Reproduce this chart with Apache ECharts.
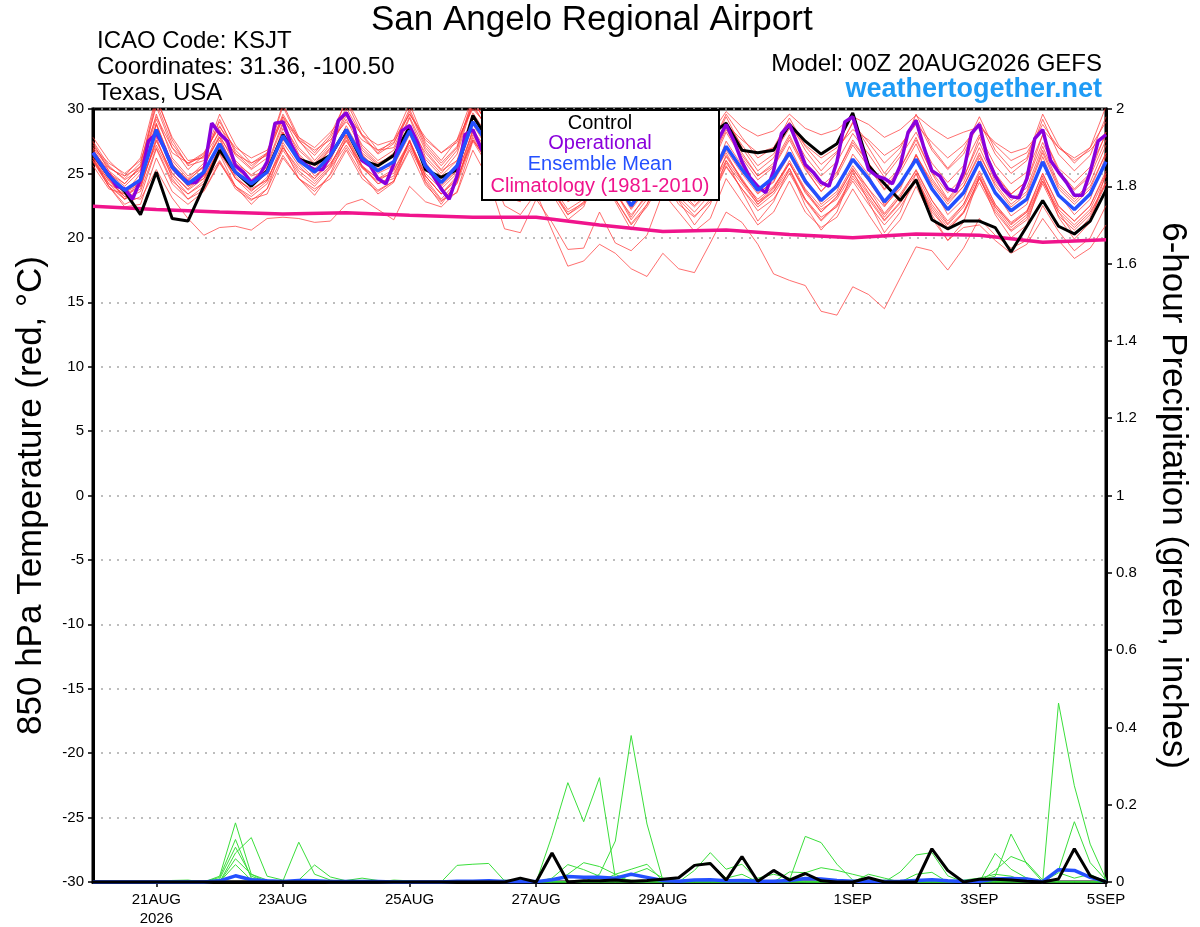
<!DOCTYPE html>
<html><head><meta charset="utf-8">
<script src="https://cdn.jsdelivr.net/npm/echarts@6/dist/echarts.min.js"></script>
<style>html,body{margin:0;padding:0;background:#fff}#chart{width:1200px;height:927px}</style>
</head><body><div id="chart"></div>
<script>
// ---------- DATA ----------
const stationTitle = 'San Angelo Regional Airport';
const headerLeft = ['ICAO Code: KSJT', 'Coordinates: 31.36, -100.50', 'Texas, USA'];
const modelText = 'Model: 00Z 20AUG2026 GEFS';
const siteText = 'weathertogether.net';
const legendNames = ['Control', 'Operational', 'Ensemble Mean', 'Climatology (1981-2010)'];
const tickLabels = {'21AUG 00Z':'21AUG\n2026','23AUG 00Z':'23AUG','25AUG 00Z':'25AUG','27AUG 00Z':'27AUG','29AUG 00Z':'29AUG','1SEP 00Z':'1SEP','3SEP 00Z':'3SEP','5SEP 00Z':'5SEP'};

// 850 hPa temperature ensemble members (6-hourly, 20AUG 00Z .. 5SEP 00Z)
const mem01=[27.2,25.5,24.6,25.8,30.2,27.0,25.3,26.4, 29.0,26.8,25.6,26.5,29.6,27.5,26.4,27.8, 30.1,27.9,26.5,27.3,30.0,27.2,25.8,27.1, 30.6,28.8,26.7,26.4,28.7,27.0,25.4,26.0, 28.3,26.2,24.3,26.1,28.1,26.5,25.2,26.3, 29.0,27.2,25.6,26.5,28.5,26.3,24.8,25.9, 28.1,26.5,24.7,26.3,28.2,25.8,24.3,25.6, 28.0,25.6,24.2,25.1,28.0,25.4,24.3,25.5, 28.0];
const mem02=[25.9,24.0,22.6,23.2,26.9,24.2,23.0,23.7, 25.9,23.8,22.9,23.8,26.4,24.6,23.6,24.9, 27.0,24.9,23.7,24.4,26.8,24.1,22.8,24.2, 27.6,25.9,23.8,23.4,25.5,23.7,22.0,22.7, 24.9,23.0,21.1,22.6,24.8,23.0,21.7,22.8, 25.5,23.8,22.1,23.0,25.0,22.9,21.3,22.5, 24.6,23.0,21.3,22.7,24.5,22.2,20.6,21.9, 24.3,22.0,20.5,21.4,24.2,21.7,20.6,21.8, 24.4];
const mem03=[26.0,24.5,23.2,23.0,25.3,23.1,21.5,20.2, 20.8,20.9,20.6,21.5,21.6,21.5,21.2,21.3, 22.6,23.0,22.2,21.4,24.0,22.8,22.4,23.6, 27.5,25.5,23.5,23.0,25.8,24.0,22.2,23.0, 25.6,23.6,21.4,23.0,25.2,23.5,22.4,23.6, 26.4,24.6,22.8,23.6,25.8,23.7,22.0,23.2, 25.4,23.5,21.6,23.2,25.3,22.9,21.1,22.6, 25.2,22.6,21.0,22.0,25.0,22.5,21.3,22.5, 25.2];
const mem04=[26.2,24.2,23.4,24.0,27.6,25.0,23.8,24.8, 26.8,24.6,23.8,24.5,27.0,25.2,24.2,25.5, 27.6,25.5,24.6,25.0,27.2,24.8,23.4,24.5, 27.8,25.6,22.5,21.8,23.5,20.6,17.8,18.2, 19.5,18.8,17.6,17.0,18.8,17.6,17.3,19.6, 22.0,21.2,19.5,17.2,16.7,16.3,14.3,14.0, 16.2,15.6,14.5,16.9,19.3,19.0,17.5,19.2, 21.5,20.2,19.2,19.8,22.5,20.5,19.0,20.0, 22.5];
const mem05=[26.8,25.2,23.5,24.2,28.8,25.8,24.0,24.6, 27.0,24.8,23.6,24.7,28.2,26.3,24.8,25.7, 27.9,25.5,24.2,24.6,27.5,24.4,22.9,23.5, 26.8,24.5,20.7,20.4,23.0,21.2,19.1,19.2, 22.0,19.6,19.0,20.2,23.5,22.0,20.5,21.5, 24.6,22.8,21.0,22.0,24.4,22.0,20.8,21.6, 23.8,21.8,20.0,21.4,24.0,21.5,19.8,20.8, 21.0,19.8,18.8,19.5,21.5,19.8,18.4,19.2, 21.0];
const mem06=[26.9,25.0,24.0,25.2,29.6,26.2,24.8,25.5, 28.4,25.8,24.9,25.7,29.0,26.5,25.3,27.0, 29.8,27.0,25.8,26.4,29.3,26.3,25.0,26.5, 30.4,28.2,25.8,25.4,28.0,26.2,24.4,25.1, 27.6,25.3,23.2,25.1,27.4,25.5,24.2,25.4, 28.2,26.2,24.5,25.5,27.6,25.3,23.6,24.8, 27.2,25.5,23.7,25.1,27.3,24.6,22.9,24.3, 27.0,24.4,22.9,23.9,27.1,24.2,23.0,24.3, 27.2];
const mem07=[26.3,24.4,23.2,24.0,27.5,25.0,23.7,24.6, 26.6,24.6,23.7,24.5,27.0,25.4,24.6,25.8, 27.5,25.6,24.6,25.3,27.5,25.0,23.8,25.0, 28.2,26.4,24.4,24.0,26.2,24.4,22.8,23.5, 25.8,23.7,21.6,23.5,25.5,23.8,22.5,23.8, 26.3,24.5,22.8,23.9,25.8,23.5,22.0,23.2, 25.3,23.8,21.9,23.4,25.2,22.9,21.3,22.6, 25.0,22.6,21.2,22.1,25.0,22.4,21.3,22.5, 25.0];
const mem08=[26.5,24.6,23.5,24.4,28.9,25.7,24.5,25.5, 28.0,25.6,24.5,25.5,28.8,26.8,25.7,27.0, 29.5,27.2,26.0,26.8,29.4,26.8,25.3,26.8, 30.5,28.8,27.0,27.2,29.6,27.8,26.0,26.8, 29.0,27.3,25.5,26.8,29.2,27.6,26.3,27.0, 29.6,27.8,26.2,27.0,29.3,27.1,25.7,26.7, 28.9,27.4,25.8,27.0,29.2,26.8,25.3,26.5, 29.0,26.5,25.0,26.0,29.2,26.5,25.2,26.4, 29.4];
const mem09=[27.8,26.0,24.8,25.5,29.2,26.6,25.8,26.3, 28.2,26.5,25.8,26.6,29.2,27.6,26.8,27.6, 29.0,27.6,26.8,27.4,29.6,27.6,26.6,27.4, 30.2,28.4,27.2,27.0,29.2,27.8,26.6,27.2, 29.0,27.6,26.8,27.6,29.4,28.2,27.6,28.0, 29.8,28.6,27.9,28.3,29.6,28.5,28.0,28.4, 29.4,28.8,27.8,28.4,29.5,28.5,27.7,28.2, 28.6,27.4,26.6,27.0,28.4,27.0,26.0,26.8, 28.2];
const mem10=[26.7,25.0,24.2,25.5,28.8,25.3,24.0,24.8, 27.6,25.4,24.4,25.0,28.5,26.4,25.0,26.0, 28.7,26.5,25.0,25.6,28.8,25.9,24.1,25.3, 29.3,27.6,25.3,24.9,27.4,25.4,23.3,24.0, 26.9,24.8,22.3,24.0,26.8,24.9,23.1,24.3, 27.5,25.6,23.5,24.3,27.1,24.6,22.6,23.6, 26.5,24.9,22.5,23.8,26.5,24.0,21.8,23.0, 26.2,23.6,21.7,22.6,26.3,23.4,21.8,23.0, 26.4];
const mem11=[26.0,24.2,23.0,23.8,27.8,24.6,23.0,24.0, 26.5,24.0,22.6,23.8,27.2,24.6,23.3,25.0, 27.8,25.0,23.4,24.3,27.6,24.3,22.6,24.3, 28.4,26.0,23.2,22.8,25.8,23.4,21.4,22.4, 25.4,22.8,20.6,22.6,25.4,22.9,21.0,22.6, 26.0,23.6,21.3,22.8,25.4,22.5,20.6,22.0, 25.2,22.8,20.4,22.0,25.0,21.8,19.8,21.2, 24.8,21.8,20.0,21.0,24.8,21.6,19.9,21.2, 25.0];
const mem12=[27.5,25.6,24.5,25.3,30.5,27.3,25.7,26.5, 28.7,26.4,25.3,26.2,29.4,27.0,25.8,27.2, 29.2,26.8,25.7,26.3,28.8,26.1,24.8,26.0, 29.7,27.8,25.8,25.6,28.2,26.5,24.8,25.4, 27.4,25.4,23.8,25.3,27.6,25.9,24.7,25.7, 28.4,26.4,24.8,25.6,27.8,25.5,24.0,25.1, 27.4,25.8,24.2,25.4,27.6,25.1,23.5,24.7, 27.4,24.8,23.4,24.4,27.4,24.9,23.7,24.8, 27.6];
const mem13=[26.4,24.6,23.0,23.6,27.0,24.4,23.4,24.2, 26.0,24.0,23.2,24.2,26.8,25.0,24.0,25.4, 27.2,25.4,24.4,25.2,27.4,24.8,23.4,24.6, 27.6,25.8,24.2,24.0,26.6,24.8,23.2,23.8, 25.8,24.0,22.4,23.8,25.6,24.0,22.8,23.8, 26.0,24.4,23.0,24.0,25.8,23.6,22.2,23.0, 25.0,23.4,21.8,23.2,25.0,22.6,21.0,22.4, 24.8,22.4,21.1,22.0,24.6,22.2,21.0,22.2, 24.8];
const mem14=[27.0,25.4,24.8,26.2,31.0,27.6,25.6,26.0, 29.2,26.6,25.4,26.6,30.4,27.8,26.6,28.0, 30.6,28.0,26.6,27.6,30.4,27.4,26.0,27.6, 31.0,29.0,26.8,26.2,28.6,26.6,24.8,25.6, 28.0,25.8,23.8,25.6,27.8,25.8,24.4,25.8, 28.6,26.6,24.8,25.8,28.0,25.4,23.6,25.0, 27.6,25.8,23.8,25.4,27.8,25.0,23.0,24.6, 27.8,25.0,23.4,24.4,28.0,25.2,23.8,25.0, 28.2];
const mem15=[25.6,23.8,23.4,25.0,28.0,26.0,24.6,25.8, 27.8,26.0,24.8,25.2,27.6,26.2,25.6,26.8, 28.0,26.6,25.6,26.6,28.6,26.6,25.2,26.0, 28.8,27.4,26.0,25.6,27.8,25.2,23.0,24.6, 27.0,25.6,23.4,24.4,26.0,24.0,23.0,24.6, 26.6,24.4,22.6,23.8,26.0,23.8,22.4,23.4, 25.6,23.8,22.4,24.0,26.4,24.4,22.8,24.0, 26.4,24.2,22.6,23.6,26.8,24.0,22.8,24.0, 26.6];
const mem16=[26.2,24.0,22.4,22.6,26.2,23.6,22.6,23.6, 25.8,24.0,23.0,23.4,26.2,24.6,23.8,24.6, 26.8,24.6,23.6,24.4,27.0,24.6,23.0,24.4, 28.0,25.8,23.6,23.2,25.6,23.6,21.8,22.8, 25.4,23.0,21.0,22.4,24.6,22.6,21.6,23.0, 25.6,23.8,22.4,23.4,25.2,23.0,21.6,22.4, 24.4,22.6,21.0,22.4,24.4,22.0,20.6,22.0, 24.6,22.2,20.6,21.6,24.4,22.0,20.8,22.0, 24.2];
const mem17=[27.4,25.2,24.2,25.6,30.8,27.8,26.0,26.2, 29.6,27.2,25.8,26.4,30.2,27.6,26.0,27.4, 30.8,28.4,26.8,27.0,29.8,27.0,25.6,27.0, 30.8,28.6,26.2,26.0,28.4,26.4,24.6,25.8, 28.6,26.4,24.6,26.2,28.8,26.8,25.4,26.8, 29.4,27.0,25.2,26.2,29.0,26.8,25.2,26.6, 29.0,27.0,25.0,26.6,29.6,27.0,25.4,26.8, 29.4,26.8,25.4,26.2,29.6,27.2,25.8,27.0, 30.2];
const mem18=[26.0,24.0,23.0,24.4,27.2,24.8,23.4,24.4, 27.0,24.6,23.4,24.4,27.4,25.6,24.4,25.6, 28.0,25.6,24.2,24.8,27.6,24.8,23.4,24.8, 28.4,26.6,24.2,23.6,25.6,23.8,21.8,22.6, 25.2,23.4,21.8,23.2,25.0,23.2,22.0,23.4, 25.8,24.2,22.6,23.6,25.4,23.0,21.4,22.6, 24.8,23.2,21.4,22.8,24.6,22.4,20.8,22.0, 24.6,22.4,20.8,21.8,24.4,22.0,20.2,21.6, 24.2];
const mem19=[27.0,25.8,25.0,26.0,29.4,27.0,25.8,26.6, 28.6,27.0,26.2,26.8,29.4,27.8,27.0,28.2, 29.6,28.0,27.2,27.6,29.6,27.8,26.6,27.6, 30.0,28.6,27.0,26.6,28.6,27.2,26.0,26.6, 28.4,26.8,25.6,26.6,28.4,27.0,26.0,26.8, 28.8,27.6,26.6,27.0,28.6,27.2,26.2,27.0, 28.4,27.6,26.4,27.2,28.8,27.4,26.2,27.2, 28.8,27.2,26.0,26.6,28.8,27.0,26.2,27.0, 29.0];
const mem20=[26.4,24.8,23.8,24.2,28.2,25.6,24.4,25.6, 27.8,25.0,24.0,25.4,28.2,25.8,24.6,26.2, 28.2,26.4,25.4,25.6,28.0,25.4,24.0,25.2, 28.8,26.8,24.6,24.4,26.8,25.0,23.4,24.2, 26.2,24.2,22.2,23.8,25.8,24.4,23.2,24.2, 26.8,25.0,23.4,24.4,26.4,24.2,22.8,24.0, 26.0,24.4,22.6,24.0,26.4,24.2,22.6,24.0, 26.6,24.0,22.4,23.4,26.6,23.8,22.6,23.8, 26.6];

// Control run, ensemble mean (6-hourly) and operational run (3-hourly)
const controlTemp=[26.5,24.8,23.6,21.8,25.1,21.5,21.3,24.0, 26.8,25.1,24.0,25.2,28.0,26.1,25.7,26.4, 28.4,26.0,25.6,26.4,28.6,25.3,24.7,25.3, 29.5,27.5,26.0,25.8,27.8,26.2,25.0,25.5, 27.6,26.2,25.2,26.0,28.0,27.0,26.5,28.0, 28.9,26.8,26.6,26.8,28.8,27.5,26.5,27.3, 29.7,25.6,24.2,22.9,24.5,21.4,20.7,21.3, 21.3,20.8,18.9,20.9,22.9,20.9,20.3,21.3, 23.7];
const meanTemp=[26.6,24.8,23.7,24.5,28.4,25.5,24.2,25.1, 27.3,25.1,24.2,25.1,27.9,26.0,25.1,26.4, 28.4,26.2,25.2,25.9,28.3,25.6,24.3,25.6, 29.0,27.2,25.0,24.8,27.0,25.2,23.6,24.3, 26.5,24.5,22.5,24.2,26.3,24.6,23.4,24.5, 27.1,25.3,23.7,24.7,26.6,24.4,22.9,24.0, 26.1,24.6,22.8,24.2,26.1,23.8,22.2,23.5, 25.9,23.5,22.1,23.0,25.9,23.3,22.2,23.4, 25.9];
const operTemp=[26.6,25.7,24.9,24.0,23.8,23.0,24.5,27.5, 28.1,27.0,25.5,24.8,24.3,24.3,25.1,28.9, 28.1,27.5,25.6,25.1,24.3,24.8,25.9,28.9, 29.0,27.3,26.1,25.6,25.3,25.3,26.4,29.1, 29.7,28.5,26.0,25.6,24.6,24.2,25.7,28.3, 28.7,27.4,25.6,24.8,23.8,23.0,24.8,28.0, 28.4,27.0,25.8,25.0,24.6,24.2,24.0,26.0, 28.0,27.0,25.5,24.8,24.0,23.6,23.8,25.8, 27.6,26.5,25.2,24.4,23.8,23.5,24.0,26.0, 27.8,26.8,25.6,24.8,24.3,24.2,25.0,27.6, 28.8,27.5,25.9,24.7,24.0,23.5,25.2,28.1, 28.8,27.3,25.7,25.1,24.3,24.0,25.9,29.0, 29.4,27.3,25.3,24.8,24.6,24.2,25.6,28.2, 29.1,27.0,25.2,24.8,23.8,23.6,25.1,28.1, 28.8,26.2,24.8,23.8,23.2,23.1,24.6,27.7, 28.4,26.0,25.1,24.3,23.3,23.3,25.1,27.5, 28.0];
// Daily 1981-2010 climatology (00Z of each day, 20AUG .. 5SEP)
const climDaily=[22.45,22.2,22.0,21.85,21.95,21.75,21.6,21.6,21.0,20.5,20.6,20.25,20.0,20.3,20.2,19.65,19.85];

// 6-hour precipitation (inches): members, control, mean
const pcp01=[0,0,0,0,0,0,0,0, .015,.153,.02,.005,0,0,0,0, 0,0,0,0,0,0,0,0, 0,0,0,0,0,.12,.257,.156, .27,.01,.005,0,0,0,0,0, 0,0,0,0,0,0,0,0, 0,0,0,0,0,0,0,0, 0,0,0,0,0,0,0,0, 0];
const pcp02=[0,0,0,0,0,.004,.005,0, .012,.11,.01,0,0,0,0,0, .004,.01,.004,0,0,0,0,0, 0,0,0,0,0,0,0,0, .02,.106,.379,.15,.005,0,0,0, 0,0,0,0,0,0,0,0, 0,0,0,.026,.07,.076,.016,0, 0,0,0,0,0,0,0,0, 0];
const pcp03=[0,0,0,0,0,0,0,0, .008,.09,.015,0,0,0,0,0, 0,0,0,0,0,0,0,.043, .046,.048,.003,0,0,0,0,0, 0,.02,.033,.046,.003,0,0,0, 0,0,0,0,0,0,0,0, 0,0,0,0,0,0,0,0, 0,.074,.033,.01,0,0,0,0, 0];
const pcp04=[0,0,0,0,0,0,0,0, 0,.075,.115,.015,.005,0,0,0, 0,0,0,0,0,0,0,0, 0,0,.005,0,0,0,0,0, 0,0,0,0,0,0,.03,.076, .033,.046,.005,0,0,0,0,0, 0,0,0,0,0,0,0,0, .005,.015,.124,.046,0,0,0,0, 0];
const pcp05=[0,0,0,0,0,0,0,0, 0,.06,.02,0,.003,.103,.02,.005, 0,0,0,0,0,0,0,0, 0,0,0,0,0,.01,.045,.032, .015,0,0,0,0,0,0,0, 0,0,0,0,.005,.118,.102,.046, .005,0,0,0,0,0,0,0, 0,.03,.066,.05,.005,0,0,0, 0];
const pcp06=[0,0,0,0,0,0,0,0, 0,.045,.005,0,0,.005,.044,.013, .003,0,0,.005,.003,0,0,0, 0,0,0,0,0,0,0,0, 0,0,0,0,0,0,0,0, 0,0,0,0,.026,.024,.037,.03, .02,.01,0,0,0,0,0,0, 0,0,0,0,0,.463,.249,.098, .007];
const pcp07=[0,0,0,0,0,0,0,0, 0,0,0,0,0,0,0,0, 0,0,0,0,0,0,0,0, 0,0,0,0,0,0,.02,.05, .04,.02,0,0,0,.01,.045,.05, .01,.02,0,0,0,0,0,0, 0,0,.005,0,.02,.025,0,0, 0,0,0,0,0,.03,.156,.05, .005];
const pcp08=[0,0,0,0,0,0,0,0, 0,0,0,0,0,0,0,0, 0,0,0,0,0,0,0,0, 0,0,0,.005,.002,0,0,0, 0,0,.02,.035,.01,0,0,0, 0,0,.01,.02,.01,0,0,0, 0,.02,.01,0,0,0,0,.005, .01,.02,.015,0,0,.024,.01,.02, 0];
const controlPcp=[0,0,0,0,0,0,0,0, 0,0,0,0,0,0,0,0, 0,0,0,0,0,0,0,0, 0,0,0,.01,0,.075,0,.003, .003,.005,.002,.004,.007,.011,.043,.048, .005,.066,.002,.03,.005,.022,.003,0, 0,.011,0,0,0,.086,.03,0, .007,.007,.005,.002,0,.008,.086,.016, 0];
const meanPcp=[0,0,0,0,0,0,0,0, .003,.016,.006,.003,.001,.004,.003,.001, .001,.001,.001,0,0,0,0,.002, .002,.003,.001,.001,.001,.006,.014,.012, .012,.01,.02,.012,.004,.002,.005,.006, .003,.004,.002,.002,.004,.009,.008,.004, .002,.002,.001,.002,.004,.006,.003,.001, .002,.008,.009,.008,.001,.032,.03,.012, .001];

// ---------- BUILD ----------
const MONTHS=['JAN','FEB','MAR','APR','MAY','JUN','JUL','AUG','SEP','OCT','NOV','DEC'];
const startMs = Date.UTC(2026,7,20,0);
function stamp(ms){const d=new Date(ms);return d.getUTCDate()+MONTHS[d.getUTCMonth()]+' '+String(d.getUTCHours()).padStart(2,'0')+'Z';}
const times6h=[]; for(let k=0;k<meanTemp.length;k++) times6h.push(stamp(startMs+k*6*3600e3));
const times3h=[]; for(let k=0;k<operTemp.length;k++) times3h.push(stamp(startMs+k*3*3600e3));
const climByStep = times6h.map(()=>null);
climDaily.forEach((v,d)=>{ climByStep[d*4]=v; });

const tempMembers=[mem01,mem02,mem03,mem04,mem05,mem06,mem07,mem08,mem09,mem10,mem11,mem12,mem13,mem14,mem15,mem16,mem17,mem18,mem19,mem20];
const pcpMembers=[pcp01,pcp02,pcp03,pcp04,pcp05,pcp06,pcp07,pcp08];

const C_RED='rgba(255,55,55,0.72)', C_GREEN='#3ade3a', C_PURPLE='#8a00dc', C_BLUE='#2450ff', C_PINK='#f0148c';
const FONT='Liberation Sans, Arial, sans-serif';

const series=[];
tempMembers.forEach((m,k)=>series.push({name:'member'+(k+1),type:'line',data:m,xAxisIndex:0,yAxisIndex:0,symbol:'none',silent:true,lineStyle:{color:C_RED,width:1},z:2}));
pcpMembers.forEach((m,k)=>series.push({name:'pcp member'+(k+1),type:'line',data:m,xAxisIndex:0,yAxisIndex:1,symbol:'none',silent:true,lineStyle:{color:C_GREEN,width:1},z:2}));
series.push({name:legendNames[3],type:'line',data:climByStep,connectNulls:true,xAxisIndex:0,yAxisIndex:0,symbol:'none',lineStyle:{color:C_PINK,width:3.5},z:3});
series.push({name:legendNames[0],type:'line',data:controlTemp,xAxisIndex:0,yAxisIndex:0,symbol:'none',lineStyle:{color:'#000',width:3},z:4});
series.push({name:legendNames[1],type:'line',data:operTemp,xAxisIndex:1,yAxisIndex:0,symbol:'none',lineStyle:{color:C_PURPLE,width:3.5},z:5});
series.push({name:legendNames[2],type:'line',data:meanTemp,xAxisIndex:0,yAxisIndex:0,symbol:'none',lineStyle:{color:C_BLUE,width:3.5},z:6});
series.push({name:'Ensemble Mean precip',type:'line',data:meanPcp,xAxisIndex:0,yAxisIndex:1,symbol:'none',lineStyle:{color:C_BLUE,width:3.5},z:6});
series.push({name:'Control precip',type:'line',data:controlPcp,xAxisIndex:0,yAxisIndex:1,symbol:'none',lineStyle:{color:'#000',width:3},z:7});

const isTick=(idx,val)=>Object.prototype.hasOwnProperty.call(tickLabels,val);
const T=(text,pos,size,extra)=>Object.assign({text:text,padding:0,textStyle:Object.assign({fontSize:size,fontWeight:'normal',color:'#000',fontFamily:FONT},extra||{})},pos);

const option={
  animation:false,
  backgroundColor:'#fff',
  textStyle:{fontFamily:FONT},
  title:[
    T(stationTitle,{left:371,top:3},35),
    T(headerLeft[0],{left:97,top:29},24),
    T(headerLeft[1],{left:97,top:55},24),
    T(headerLeft[2],{left:97,top:81},24),
    T(modelText,{right:98,top:52},24),
    T(siteText,{right:98,top:76},27,{fontWeight:'bold',color:'#1e9bf5'})
  ],
  grid:{left:93,right:94,top:109,bottom:45,show:true,borderColor:'#000',borderWidth:3,backgroundColor:'transparent',containLabel:false,outerBoundsMode:'none'},
  xAxis:[
    {type:'category',data:times6h,boundaryGap:false,
     axisLine:{show:true,onZero:false,lineStyle:{color:'#000',width:3}},
     axisTick:{show:true,interval:isTick,length:5,lineStyle:{color:'#000',width:1.5}},
     axisLabel:{interval:isTick,formatter:v=>tickLabels[v]||'',color:'#000',fontSize:15,lineHeight:19,margin:8,fontFamily:FONT},
     splitLine:{show:false}},
    {type:'category',data:times3h,boundaryGap:false,show:false,axisLine:{onZero:false}}
  ],
  yAxis:[
    {type:'value',min:-30,max:30,interval:5,position:'left',
     name:'850 hPa Temperature (red, °C)',nameLocation:'middle',nameGap:44,nameRotate:90,
     nameTextStyle:{fontSize:35,color:'#000',fontFamily:FONT},
     axisLine:{show:true,onZero:false,lineStyle:{color:'#000',width:3}},
     axisTick:{show:true,length:5,lineStyle:{color:'#000',width:1.5}},
     axisLabel:{color:'#000',fontSize:15,margin:9,fontFamily:FONT},
     splitLine:{show:true,lineStyle:{color:'#a8a8a8',width:1.5,type:[2,6]}}},
    {type:'value',min:0,max:2,interval:0.2,position:'right',
     name:'6-hour Precipitation (green, inches)',nameLocation:'middle',nameGap:49,nameRotate:-90,
     nameTextStyle:{fontSize:35,color:'#000',fontFamily:FONT},
     axisLine:{show:true,onZero:false,lineStyle:{color:'#000',width:3}},
     axisTick:{show:true,length:6,lineStyle:{color:'#000',width:1.5}},
     axisLabel:{color:'#000',fontSize:15,margin:10,fontFamily:FONT,formatter:v=>String(+v.toFixed(1))},
     splitLine:{show:false}}
  ],
  graphic:[{
    type:'group',left:481,top:109,z:100,
    children:[
      {type:'rect',shape:{x:0,y:0,width:237,height:90},style:{fill:'#fff',stroke:'#000',lineWidth:2},z:100},
      {type:'text',x:118,y:3,style:{text:legendNames[0],fill:'#000',font:'20px '+FONT,textAlign:'center'},z:101},
      {type:'text',x:118,y:23,style:{text:legendNames[1],fill:C_PURPLE,font:'20px '+FONT,textAlign:'center'},z:101},
      {type:'text',x:118,y:44,style:{text:legendNames[2],fill:C_BLUE,font:'20px '+FONT,textAlign:'center'},z:101},
      {type:'text',x:118,y:66,style:{text:legendNames[3],fill:C_PINK,font:'20px '+FONT,textAlign:'center'},z:101}
    ]
  }],
  series:series
};
const chart=echarts.init(document.getElementById('chart'),null,{renderer:'canvas'});
chart.setOption(option);
</script></body></html>
